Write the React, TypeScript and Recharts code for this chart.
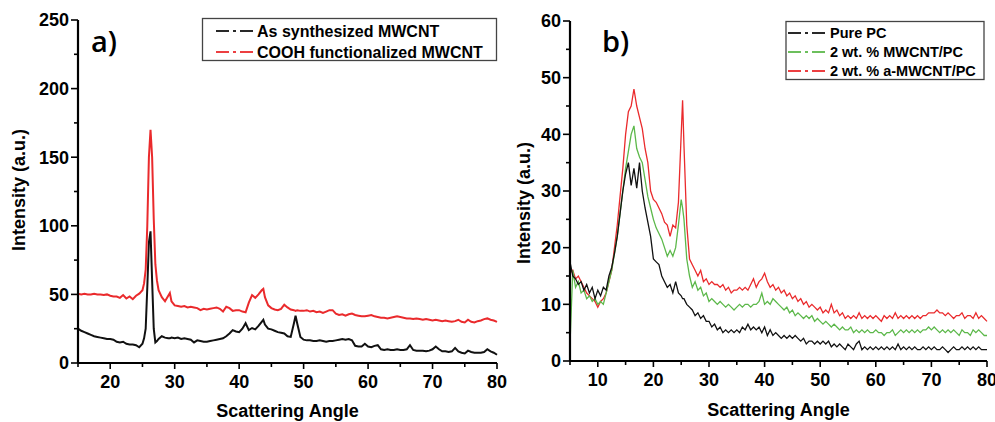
import React from 'react';
import { LineChart, Line, XAxis, YAxis } from 'recharts';

const FONT = '"Liberation Sans", Arial, sans-serif';

// ---------- Panel a) ----------
const angleA = [
  15, 15.5, 16, 16.5, 17, 17.5, 18, 18.5, 19, 19.5, 20, 20.5, 21, 21.5, 22, 22.5, 23, 23.5, 24, 24.5,
  25, 25.25, 25.5, 25.75, 26, 26.25, 26.5, 26.75, 27, 27.25, 27.5,
  28, 28.5, 29, 29.25, 29.5,
  30, 30.5, 31, 31.5, 32, 32.5, 33, 33.5, 34, 34.5, 35, 35.5, 36, 36.5, 37, 37.5, 38, 38.5, 39, 39.5,
  40, 40.5, 41, 41.5, 42, 42.5, 43, 43.5,
  43.75,
  44, 44.5, 45, 45.5, 46, 46.5, 47, 47.5, 48, 48.5,
  48.75,
  49, 49.5, 50, 50.5, 51, 51.5, 52, 52.5, 53, 53.5, 54, 54.5, 55, 55.5, 56, 56.5, 57, 57.5, 58, 58.5,
  59, 59.5, 60, 60.5, 61, 61.5, 62, 62.5, 63, 63.5, 64, 64.5, 65, 65.5, 66, 66.5, 67, 67.5, 68, 68.5,
  69, 69.5, 70, 70.5, 71, 71.5, 72, 72.5, 73, 73.5, 74, 74.5, 75, 75.5, 76, 76.5, 77, 77.5, 78, 78.5,
  79, 79.5, 80,
];
const asSynthesized = [
  25, 23.5, 22.5, 21.5, 20.5, 19.5, 19, 18.5, 18, 17.5, 17.5, 17, 15.5, 15, 15.5, 14, 13.5, 13.5, 13, 11.5,
  14, 18, 25, 55, 88, 96, 60, 25, 15, 16, 17.5,
  19.5, 18.5, 18, 18, 18.5,
  18, 18.5, 17.5, 18, 17.5, 17, 15, 16.5, 16, 15.5, 15.5, 16, 16.5, 17, 17.5, 18, 19.5, 21.5, 24, 23,
  22.5, 25, 29, 24, 25.5, 24.5, 27, 30,
  31.5,
  28, 25, 24.5, 23.5, 22.5, 22, 21.5, 19.5, 19, 29,
  34.5,
  29, 19, 17, 16.5, 16.5, 16, 16, 16.5, 16, 15.5, 16, 16, 16.5, 17, 17.5, 17, 17.5, 16.5, 12.5, 12,
  12, 14, 12, 11.5, 12.5, 13, 10, 9.5, 10, 9.5, 9.5, 10, 9.5, 9.5, 10, 13, 9.5, 9, 9, 9,
  8.5, 9, 10, 12, 10, 8.5, 8.5, 8, 8.5, 11, 8.5, 7.5, 7, 9, 8, 7.5, 7.5, 7.5, 8, 10,
  8.5, 7.5, 6,
];
const coohFunctionalized = [
  50.5, 50, 50.5, 50, 50, 50.5, 50, 50, 49.5, 50, 49, 48.5, 48.5, 47.5, 49.5, 47, 48.5, 46.5, 49, 50.5,
  53, 58, 68, 100, 150, 170, 150, 105, 72, 60, 53,
  48, 45, 49, 51, 45,
  42, 41.5, 41, 41.5, 40.5, 41, 40.5, 40, 38.5, 39.5, 39, 39.5, 40, 40.5, 39.5, 37.5, 41, 40, 38, 38.5,
  38.5, 37.5, 37, 44, 49.5, 47.5, 50, 53,
  54,
  48, 42, 40, 39, 38.5, 39.5, 42.5, 40.5, 39, 38.5,
  38,
  38.5, 38, 38, 38.5, 37.5, 38, 37, 37.5, 36.5, 37.5, 38.5, 38.5, 36, 35, 35.5, 34.5, 35.5, 36, 35, 34.5,
  34, 34, 34.5, 35, 34, 33.5, 33, 33, 32.5, 33, 33.5, 34, 33.5, 33, 32.5, 32.5, 32, 32.5, 32, 31.5,
  32, 31.5, 31, 31.5, 31, 30.5, 31, 30.5, 30, 30.5, 31.5, 30, 29.5, 31.5, 30, 29.5, 30.5, 31, 32, 32.5,
  31.5, 31, 30,
];
const xTicksA = [15, 20, 25, 30, 35, 40, 45, 50, 55, 60, 65, 70, 75, 80];
const xMajorA = [20, 30, 40, 50, 60, 70, 80];
const yTicksA = [0, 25, 50, 75, 100, 125, 150, 175, 200, 225, 250];
const yMajorA = [0, 50, 100, 150, 200, 250];

// ---------- Panel b) ----------
const angleB = [
  5, 5.5, 6, 6.5, 7, 7.5, 8, 8.5, 9, 9.5, 10, 10.5, 11, 11.5, 12, 12.5, 13, 13.5, 14, 14.5,
  15, 15.5, 16, 16.5, 17, 17.5, 18, 18.5, 19, 19.5, 20, 20.5, 21, 21.5, 22, 22.5, 23, 23.5, 24, 24.5,
  25, 25.25,
  25.5, 26, 26.5, 27, 27.5, 28, 28.5, 29, 29.5, 30,
  30.5, 31, 31.5, 32, 32.5, 33, 33.5, 34, 34.5, 35,
  35.5, 36, 36.5, 37, 37.5, 38, 38.5, 39, 39.5, 40,
  40.5, 41, 41.5, 42, 42.5, 43, 43.5, 44, 44.5, 45,
  45.5, 46, 46.5, 47, 47.5, 48, 48.5, 49, 49.5, 50,
  50.5, 51, 51.5, 52, 52.5, 53, 53.5, 54, 54.5, 55,
  55.5, 56, 56.5, 57, 57.5, 58, 58.5, 59, 59.5, 60,
  60.5, 61, 61.5, 62, 62.5, 63, 63.5, 64, 64.5, 65,
  65.5, 66, 66.5, 67, 67.5, 68, 68.5, 69, 69.5, 70,
  70.5, 71, 71.5, 72, 72.5, 73, 73.5, 74, 74.5, 75,
  75.5, 76, 76.5, 77, 77.5, 78, 78.5, 79, 79.5, 80,
];
const purePC = [
  17.5, 15, 14.5, 13.5, 14, 12.5, 13.5, 12, 13, 11, 12.5, 11.5, 13, 12.5, 15, 16.5, 19, 22, 26, 30,
  33, 35, 31, 34, 30.5, 35, 30, 27, 24.5, 22, 18, 17.5, 17, 15, 14, 13, 13.5, 12, 14, 12,
  11.5, 11,
  11, 10, 9.5, 9, 8, 8.5, 7.5, 8, 7, 7,
  6, 6.5, 5.5, 6, 5, 5.5, 5, 5.5, 5, 5.5,
  5, 6, 5.5, 6.5, 5.5, 6, 5.5, 6, 5, 6,
  4.5, 5.5, 4.5, 5, 4.5, 4, 4.5, 4, 4.5, 4,
  4.5, 4, 3.5, 4, 3, 3.5, 3.5, 3, 3.5, 3,
  3.5, 3, 3.5, 2.5, 3, 2.5, 3, 2.5, 2, 3,
  2.5, 2, 3, 3.5, 2, 2.5, 2, 2.5, 2, 2.5,
  2, 2.5, 2, 2.5, 2, 2.5, 2, 3, 2, 2.5,
  2, 2.5, 2, 2.5, 2, 2, 2.5, 2, 2.5, 2,
  2.5, 2, 2, 2.5, 2, 1.5, 2, 2.5, 2, 2,
  2.5, 2, 2.5, 2, 2.5, 2, 2.5, 2, 2, 2,
];
const mwcntPC = [
  3, 16, 13, 14, 12, 12.5, 11, 11.5, 10.5, 11, 10, 10.5, 10, 12, 14, 16, 19, 22, 26, 30,
  34, 37, 40, 41.5, 37.5, 36, 35, 32, 29, 27, 25, 23.5, 22.5, 21.5, 20, 18.5, 19.5, 18.5, 20, 24,
  28.5, 27,
  25, 18, 15, 13, 14, 12.5, 13, 11.5, 12, 10.5,
  11, 10.5, 10, 10.5, 10, 9.5, 10, 9.5, 9, 9.5,
  10, 9.5, 10, 10, 9.5, 10, 10, 10.5, 12, 10,
  10.5, 10, 11, 10.5, 10, 9.5, 9, 9.5, 8.5, 9,
  8, 8.5, 8, 7.5, 8, 7.5, 8, 7, 7.5, 7,
  6.5, 7, 6.5, 6, 6.5, 6, 5.5, 6, 5.5, 5.5,
  6, 5, 5.5, 5, 5.5, 5, 5.5, 5, 5, 5.5,
  5, 5, 4.5, 5, 5, 5.5, 4.5, 5, 5.5, 5,
  5.5, 5, 5.5, 5, 5.5, 5, 5.5, 5.5, 6, 5.5,
  6, 5.5, 5, 5.5, 5, 5.5, 5, 5.5, 5, 4.5,
  5.5, 5, 5, 4.5, 5.5, 5, 5.5, 5, 4.5, 4.5,
];
const aMwcntPC = [
  15.5, 16, 14.5, 15, 14, 13, 12, 11.5, 11, 10.5, 9.5, 10.5, 11, 12, 14, 16, 20, 24, 29, 34,
  40, 44, 45, 48, 45, 43, 41, 37.5, 35, 30, 28.5, 28, 27, 26, 24.5, 24, 22, 24, 23.5, 28,
  40, 46,
  38, 24, 18, 17, 16, 15, 16, 14, 14.5, 13.5,
  14, 13.5, 13.5, 13, 13.5, 12.5, 13, 12, 12.5, 12.5,
  13, 12.5, 13, 12.5, 13.5, 14.5, 13, 14, 14.5, 15.5,
  14, 13, 13.5, 12.5, 13, 12, 12.5, 11.5, 12, 11,
  11.5, 10.5, 11, 10, 10.5, 9.5, 10, 9.5, 9, 9.5,
  8.5, 9, 8.5, 10, 8.5, 9, 8, 8.5, 7.5, 8,
  7.5, 8, 7.5, 8.5, 7.5, 8, 7.5, 8, 7.5, 8,
  7.5, 7, 8, 7.5, 8, 7.5, 8.5, 7.5, 8, 7.5,
  8, 7.5, 8, 7.5, 8, 7.5, 8, 8, 8.5, 8.5,
  8.5, 9, 8.5, 8.5, 8, 8.5, 8, 7.5, 8, 8,
  8.5, 7.5, 8, 8, 7.5, 8.5, 7.5, 8, 7.5, 7,
];
const xTicksB = [5, 10, 15, 20, 25, 30, 35, 40, 45, 50, 55, 60, 65, 70, 75, 80];
const xMajorB = [10, 20, 30, 40, 50, 60, 70, 80];
const yTicksB = [0, 5, 10, 15, 20, 25, 30, 35, 40, 45, 50, 55, 60];
const yMajorB = [0, 10, 20, 30, 40, 50, 60];

const BLACK = '#111111';
const RED = '#ea2a2c';
const GREEN = '#5cb84a';

const dataA = angleA.map((a, i) => ({ angle: a, asSyn: asSynthesized[i], cooh: coohFunctionalized[i] }));
const dataB = angleB.map((a, i) => ({ angle: a, pc: purePC[i], mw: mwcntPC[i], amw: aMwcntPC[i] }));

const makeXTick = (majors: number[]) => (props: any) => {
  const { x, y, payload } = props;
  const v = payload.value;
  const major = majors.includes(v);
  return (
    <g>
      <line x1={x} x2={x} y1={y} y2={y + (major ? 6 : 4)} stroke="#000" strokeWidth={1.6} />
      {major && (
        <text x={x} y={y + 25} textAnchor="middle" fontSize={18} fontWeight={700} fontFamily={FONT} fill="#000">
          {v}
        </text>
      )}
    </g>
  );
};

const makeYTick = (majors: number[]) => (props: any) => {
  const { x, y, payload } = props;
  const v = payload.value;
  const major = majors.includes(v);
  return (
    <g>
      <line x1={x} x2={x - (major ? 7 : 4)} y1={y} y2={y} stroke="#000" strokeWidth={1.6} />
      {major && (
        <text x={x - 9} y={y} dy="0.36em" textAnchor="end" fontSize={18} fontWeight={700} fontFamily={FONT} fill="#000">
          {v}
        </text>
      )}
    </g>
  );
};

const axisLine = { stroke: '#000', strokeWidth: 2.2 };

const Sample = ({ x, y, color }: { x: number; y: number; color: string }) => (
  <g stroke={color} strokeWidth={1.8}>
    <line x1={x} x2={x + 13} y1={y} y2={y} />
    <line x1={x + 17} x2={x + 20} y1={y} y2={y} />
    <line x1={x + 24} x2={x + 37} y1={y} y2={y} />
  </g>
);

export default function App() {
  return (
    <div style={{ position: 'absolute', left: 0, top: 0, width: 995, height: 422, background: '#fff', overflow: 'hidden' }}>
      <div style={{ position: 'absolute', left: 0, top: 0 }}>
        <LineChart width={520} height={422} data={dataA} margin={{ top: 20, right: 23, left: 0, bottom: 0 }}>
          <XAxis
            dataKey="angle"
            type="number"
            domain={[15, 80]}
            ticks={xTicksA}
            interval={0}
            height={59}
            tickSize={0}
            tickMargin={0}
            tickLine={false}
            axisLine={axisLine}
            tick={makeXTick(xMajorA)}
          />
          <XAxis xAxisId="top" orientation="top" type="number" dataKey="angle" domain={[15, 80]} height={0} tick={false} tickLine={false} axisLine={axisLine} />
          <YAxis
            type="number"
            domain={[0, 250]}
            ticks={yTicksA}
            interval={0}
            width={78}
            tickSize={0}
            tickMargin={0}
            tickLine={false}
            axisLine={axisLine}
            tick={makeYTick(yMajorA)}
          />
          <YAxis yAxisId="right" orientation="right" type="number" domain={[0, 250]} width={0} tick={false} tickLine={false} axisLine={axisLine} />
          <Line dataKey="asSyn" stroke={BLACK} strokeWidth={2} dot={false} isAnimationActive={false} type="linear" />
          <Line dataKey="cooh" stroke={RED} strokeWidth={2} dot={false} isAnimationActive={false} type="linear" />
        </LineChart>
      </div>
      <div style={{ position: 'absolute', left: 500, top: 0 }}>
        <LineChart width={495} height={422} data={dataB} margin={{ top: 21, right: 8, left: 0, bottom: 0 }}>
          <XAxis
            dataKey="angle"
            type="number"
            domain={[5, 80]}
            ticks={xTicksB}
            interval={0}
            height={61}
            tickSize={0}
            tickMargin={0}
            tickLine={false}
            axisLine={axisLine}
            tick={makeXTick(xMajorB)}
          />
          <XAxis xAxisId="top" orientation="top" type="number" dataKey="angle" domain={[5, 80]} height={0} tick={false} tickLine={false} axisLine={axisLine} />
          <YAxis
            type="number"
            domain={[0, 60]}
            ticks={yTicksB}
            interval={0}
            width={70}
            tickSize={0}
            tickMargin={0}
            tickLine={false}
            axisLine={axisLine}
            tick={makeYTick(yMajorB)}
          />
          <YAxis yAxisId="right" orientation="right" type="number" domain={[0, 60]} width={0} tick={false} tickLine={false} axisLine={axisLine} />
          <Line dataKey="amw" stroke={RED} strokeWidth={1.3} dot={false} isAnimationActive={false} type="linear" />
          <Line dataKey="mw" stroke={GREEN} strokeWidth={1.3} dot={false} isAnimationActive={false} type="linear" />
          <Line dataKey="pc" stroke={BLACK} strokeWidth={1.3} dot={false} isAnimationActive={false} type="linear" />
        </LineChart>
      </div>
      <svg width={995} height={422} style={{ position: 'absolute', left: 0, top: 0, pointerEvents: 'none' }}>
        <g fontFamily={FONT} fontWeight={700} fill="#000">
          <text x={287.5} y={417} textAnchor="middle" fontSize={18}>Scattering Angle</text>
          <text x={778.5} y={416} textAnchor="middle" fontSize={18}>Scattering Angle</text>
          <text transform="translate(25,190) rotate(-90)" textAnchor="middle" fontSize={18}>Intensity (a.u.)</text>
          <text transform="translate(530,203) rotate(-90)" textAnchor="middle" fontSize={18}>Intensity (a.u.)</text>
        </g>
        <g fontFamily='"Open Sans", sans-serif' fontWeight={600} fill="#000" fontSize={29}>
          <text x={91} y={52}>a)</text>
          <text x={602} y={52}>b)</text>
        </g>
        {/* legend a */}
        <rect x={202.5} y={18.5} width={294} height={42} fill="#fff" stroke="#444" strokeWidth={1.3} />
        <Sample x={216} y={31} color={BLACK} />
        <Sample x={216} y={52} color={RED} />
        <g fontFamily={FONT} fontWeight={700} fill="#000" fontSize={16}>
          <text x={257} y={36.5}>As synthesized MWCNT</text>
          <text x={257} y={57.5}>COOH functionalized MWCNT</text>
        </g>
        {/* legend b */}
        <rect x={786} y={21.5} width={198} height={58} fill="#fff" stroke="#444" strokeWidth={1.3} />
        <Sample x={788} y={33} color={BLACK} />
        <Sample x={788} y={52} color={GREEN} />
        <Sample x={788} y={71} color={RED} />
        <g fontFamily={FONT} fontWeight={700} fill="#000" fontSize={14.5}>
          <text x={830} y={38}>Pure PC</text>
          <text x={830} y={57}>2 wt. % MWCNT/PC</text>
          <text x={830} y={76}>2 wt. % a-MWCNT/PC</text>
        </g>
      </svg>
    </div>
  );
}
